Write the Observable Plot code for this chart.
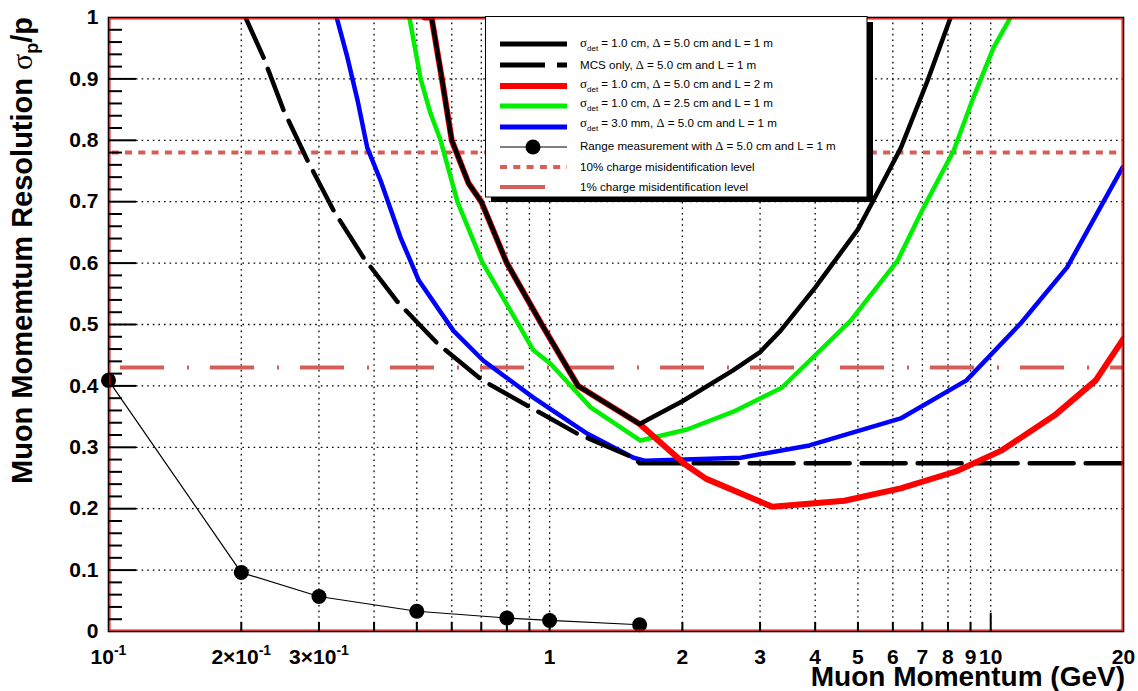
<!DOCTYPE html>
<html>
<head>
<meta charset="utf-8">
<script src="https://cdn.jsdelivr.net/npm/d3@7"></script>
<script src="https://cdn.jsdelivr.net/npm/@observablehq/plot@0.6"></script>
<style>
  html, body { margin: 0; padding: 0; background: white; overflow: hidden; }
  #chart svg { display: block; }
</style>
</head>
<body>
<div id="chart"></div>
<script>
// ---- data ----
// sigma_det = 1.0 cm, Delta = 5.0 cm, L = 1 m (black solid)
const pBlack = [0.52, 0.54, 0.57, 0.60, 0.655, 0.70, 0.80, 0.96, 1.16, 1.6, 2.0, 2.6, 3.0, 3.34, 4.0, 5.0, 5.4, 6.26, 7.19, 8.11];
const rBlack = [1.0, 1.0, 0.90, 0.80, 0.73, 0.70, 0.60, 0.50, 0.40, 0.338, 0.375, 0.425, 0.455, 0.49, 0.56, 0.655, 0.70, 0.788, 0.897, 1.0];
// MCS only (black dashed)
const pMCS = [0.2045, 0.2246, 0.2494, 0.2826, 0.3236, 0.3785, 0.452, 0.557, 0.704, 0.905, 1.157, 1.549, 1.6, 20];
const rMCS = [1.0, 0.935, 0.849, 0.767, 0.686, 0.609, 0.537, 0.469, 0.409, 0.365, 0.322, 0.283, 0.274, 0.274];
// sigma_det = 1.0 cm, Delta = 5.0 cm, L = 2 m (red)
const pRed = [0.52, 0.54, 0.57, 0.60, 0.655, 0.70, 0.80, 0.96, 1.16, 1.6, 2.03, 2.26, 3.2, 4.66, 6.25, 8.36, 10.6, 13.96, 17.3, 20];
const rRed = [1.0, 1.0, 0.90, 0.80, 0.73, 0.70, 0.60, 0.50, 0.40, 0.338, 0.272, 0.249, 0.203, 0.213, 0.233, 0.261, 0.295, 0.352, 0.409, 0.477];
// sigma_det = 1.0 cm, Delta = 2.5 cm, L = 1 m (green)
const pGreen = [0.481, 0.51, 0.537, 0.566, 0.618, 0.704, 0.815, 0.919, 1.005, 1.239, 1.607, 2.05, 2.61, 3.36, 4.81, 6.15, 7.04, 8.24, 9.14, 10.15, 11.09];
const rGreen = [1.0, 0.90, 0.844, 0.80, 0.70, 0.601, 0.523, 0.458, 0.436, 0.365, 0.311, 0.329, 0.358, 0.397, 0.506, 0.604, 0.69, 0.783, 0.87, 0.951, 1.0];
// sigma_det = 3.0 mm, Delta = 5.0 cm, L = 1 m (blue)
const pBlue = [0.329, 0.348, 0.367, 0.386, 0.414, 0.459, 0.505, 0.605, 0.708, 0.919, 1.219, 1.55, 1.65, 2.71, 3.88, 6.25, 8.81, 11.7, 14.9, 17.7, 19.9];
const rBlue = [1.0, 0.935, 0.865, 0.788, 0.734, 0.642, 0.572, 0.490, 0.441, 0.381, 0.322, 0.283, 0.278, 0.283, 0.303, 0.347, 0.409, 0.502, 0.593, 0.69, 0.756];
// Range measurement (points)
const pRange = [0.1, 0.2, 0.3, 0.5, 0.8, 1.0, 1.6];
const rRange = [0.409, 0.096, 0.057, 0.033, 0.022, 0.018, 0.011];
// charge misidentification levels
const level10 = 0.78;
const level1 = 0.43;

// ticks
const xLabelTicks = [0.1, 0.2, 0.3, 1, 2, 3, 4, 5, 6, 7, 8, 9, 10, 20];
const xLabelText = ["10^-1", "2×10^-1", "3×10^-1", "1", "2", "3", "4", "5", "6", "7", "8", "9", "10", "20"];
const xGrid = [0.2, 0.3, 0.4, 0.5, 0.6, 0.7, 0.8, 0.9, 1, 2, 3, 4, 5, 6, 7, 8, 9, 10];
const xMajorTicks = [1, 10];
const xMinorTicks = [0.2, 0.3, 0.4, 0.5, 0.6, 0.7, 0.8, 0.9, 2, 3, 4, 5, 6, 7, 8, 9];
const yLabelTicks = [0, 0.1, 0.2, 0.3, 0.4, 0.5, 0.6, 0.7, 0.8, 0.9, 1];
const yLabelText = ["0", "0.1", "0.2", "0.3", "0.4", "0.5", "0.6", "0.7", "0.8", "0.9", "1"];
const yGrid = [0.1, 0.2, 0.3, 0.4, 0.5, 0.6, 0.7, 0.8, 0.9];
const yMinorTicks = d3.range(1, 50).map(i => i / 50).filter(v => Math.round(v * 50) % 5 !== 0);

const legendLabels = [
  "σdet = 1.0 cm, Δ = 5.0 cm and L = 1 m",
  "MCS only, Δ = 5.0 cm and L = 1 m",
  "σdet = 1.0 cm, Δ = 5.0 cm and L = 2 m",
  "σdet = 1.0 cm, Δ = 2.5 cm and L = 1 m",
  "σdet = 3.0 mm, Δ = 5.0 cm and L = 1 m",
  "Range measurement with Δ = 5.0 cm and L = 1 m",
  "10% charge misidentification level",
  "1% charge misidentification level"
];

// ---- build tables ----
const toRows = (ps, rs) => ps.map((p, i) => ({p, r: rs[i]}));
const black = toRows(pBlack, rBlack);
const mcs = toRows(pMCS, rMCS);
const red = toRows(pRed, rRed);
const green = toRows(pGreen, rGreen);
const blue = toRows(pBlue, rBlue);
const range = toRows(pRange, rRange);
const xLabels = xLabelTicks.map((v, i) => ({v, t: xLabelText[i]}));

const W = 1138, H = 691, ML = 108, MR = 15, MT = 17, MB = 60;
const PW = W - ML - MR, PH = H - MT - MB;
const LEVEL = "#d65e59";

const plot = Plot.plot({
  width: W, height: H,
  marginLeft: ML, marginRight: MR, marginTop: MT, marginBottom: MB,
  x: {type: "log", domain: [0.1, 20], axis: null},
  y: {domain: [0, 1]},
  style: {fontFamily: "'Liberation Sans', Arial, Helvetica, sans-serif", fontSize: "21px", fontWeight: "bold", background: "white", color: "black"},
  marks: [
    // grid
    Plot.ruleX(xGrid, {x: d => d, stroke: "black", strokeWidth: 1.3, strokeDasharray: "1.6,4"}),
    Plot.ruleY(yGrid, {y: d => d, stroke: "black", strokeWidth: 1.3, strokeDasharray: "1.6,4"}),
    // levels
    Plot.ruleY([level10], {y: d => d, stroke: LEVEL, strokeWidth: 4, strokeDasharray: "7,6.3", strokeDashoffset: -17}),
    Plot.ruleY([level1], {y: d => d, stroke: LEVEL, strokeWidth: 4, strokeDasharray: "44,23,2,21", strokeDashoffset: 78}),
    // curves
    Plot.line(green, {x: "p", y: "r", stroke: "#00ee00", strokeWidth: 4.5, clip: true}),
    Plot.line(blue, {x: "p", y: "r", stroke: "#0000ff", strokeWidth: 4.5, clip: true}),
    Plot.line(mcs, {x: "p", y: "r", stroke: "black", strokeWidth: 4.5, strokeDasharray: "44,12", clip: true}),
    Plot.line(red, {x: "p", y: "r", stroke: "#ff0000", strokeWidth: 6, clip: true}),
    Plot.line(black, {x: "p", y: "r", stroke: "black", strokeWidth: 4.5, clip: true}),
    // range measurement
    Plot.line(range, {x: "p", y: "r", stroke: "black", strokeWidth: 1.2}),
    Plot.dot(range, {x: "p", y: "r", r: 7.5, fill: "black", stroke: "none"}),
    // frame
    Plot.frame({stroke: "black", strokeWidth: 1.6}),
    Plot.frame({stroke: "#ee0000", strokeWidth: 1.2, inset: 1.4}),
    // ticks (inward)
    Plot.tickX(xMajorTicks, {x: d => d, stroke: "black", strokeWidth: 2, insetTop: PH - 18}),
    Plot.tickX(xMinorTicks, {x: d => d, stroke: "black", strokeWidth: 2, insetTop: PH - 9}),
    Plot.tickY(yGrid, {y: d => d, stroke: "black", strokeWidth: 2, insetRight: PW - 28}),
    Plot.tickY(yMinorTicks, {y: d => d, stroke: "black", strokeWidth: 2, insetRight: PW - 14}),
    // x tick labels
    Plot.text(xLabels, {x: "v", text: "t", frameAnchor: "bottom", lineAnchor: "top", dy: 18, fontSize: 21, fontWeight: "bold", fill: "black", textAnchor: "middle"}),
    // y axis labels
    Plot.axisY(yLabelTicks, {tickSize: 0, tickPadding: 10, tickFormat: d => yLabelText[yLabelTicks.indexOf(d)], label: null, fontSize: 21, fontWeight: "bold"})
  ]
});

document.getElementById("chart").appendChild(plot);
const svg = d3.select(plot);

// superscript exponents in tick labels
svg.selectAll("text").each(function() {
  const t = this.textContent;
  if (t.includes("^")) {
    const [base, exp] = t.split("^");
    const sel = d3.select(this);
    sel.text(null);
    sel.append("tspan").text(base);
    sel.append("tspan").attr("dy", -9).attr("font-size", 14).text(exp);
  }
});

const SERIF = "'Liberation Serif', 'DejaVu Serif', serif";
function rich(sel, segs) {
  segs.forEach(s => {
    const ts = sel.append("tspan").text(s.t);
    if (s.f) ts.attr("font-family", s.f);
    if (s.w) ts.attr("font-weight", s.w);
    if (s.size) ts.attr("font-size", s.size);
    if (s.dy) ts.attr("dy", s.dy);
  });
}
// split label into serif greek + subscript "det"
function labelSegs(label) {
  const segs = [];
  let rest = label;
  if (rest.startsWith("σdet")) {
    segs.push({t: "σ", f: SERIF, size: 13});
    segs.push({t: "det", size: 8, dy: 4});
    rest = rest.slice(4);
    const parts = rest.split("Δ");
    segs.push({t: parts[0], dy: -4});
    segs.push({t: "Δ", f: SERIF, size: 12.5});
    segs.push({t: parts[1]});
  } else if (rest.includes("Δ")) {
    const parts = rest.split("Δ");
    segs.push({t: parts[0]});
    segs.push({t: "Δ", f: SERIF, size: 12.5});
    segs.push({t: parts[1]});
  } else segs.push({t: rest});
  return segs;
}

// axis titles
const yt = svg.append("text")
  .attr("transform", `translate(32,${MT}) rotate(-90)`)
  .attr("text-anchor", "end")
  .attr("font-size", 29).attr("font-weight", "bold").attr("fill", "black");
rich(yt, [
  {t: "Muon Momemtum Resolution "},
  {t: "σ", f: SERIF, w: "normal", size: 30},
  {t: "p", size: 18, dy: 6},
  {t: "/p", dy: -6}
]);
svg.append("text")
  .attr("x", W - 13).attr("y", 686)
  .attr("text-anchor", "end")
  .attr("font-size", 28).attr("font-weight", "bold").attr("fill", "black")
  .text("Muon Momentum (GeV)");

// legend
const lg = svg.append("g");
lg.append("rect").attr("x", 491).attr("y", 22).attr("width", 382).attr("height", 180).attr("fill", "black");
lg.append("rect").attr("x", 485.5).attr("y", 16.5).attr("width", 381.5).attr("height", 180.5).attr("fill", "white").attr("stroke", "black").attr("stroke-width", 1);
const rowY = [44, 65, 86, 106, 127, 147, 167, 187];
const textY = [43, 65, 84, 103, 123, 146, 167, 187];
const x0 = 500, x1 = 567;
const sampleLine = (i, stroke, w, dash, xe) => lg.append("line")
  .attr("x1", x0).attr("x2", xe || x1).attr("y1", rowY[i]).attr("y2", rowY[i])
  .attr("stroke", stroke).attr("stroke-width", w).attr("stroke-dasharray", dash || null);
sampleLine(0, "black", 5);
sampleLine(1, "black", 5, "45,12,10,100");
sampleLine(2, "#ff0000", 6);
sampleLine(3, "#00ee00", 5);
sampleLine(4, "#0000ff", 5);
sampleLine(5, "black", 1.2);
lg.append("circle").attr("cx", 533).attr("cy", rowY[5]).attr("r", 7.5).attr("fill", "black");
sampleLine(6, LEVEL, 4, "7,6.3");
sampleLine(7, LEVEL, 4, null, 545);
legendLabels.forEach((lab, i) => {
  const t = lg.append("text").attr("x", 580).attr("y", textY[i]).attr("dy", "0.36em")
    .attr("text-anchor", "start")
    .attr("font-size", 11.6).attr("font-weight", "normal").attr("fill", "black");
  rich(t, labelSegs(lab));
});
</script>
</body>
</html>
